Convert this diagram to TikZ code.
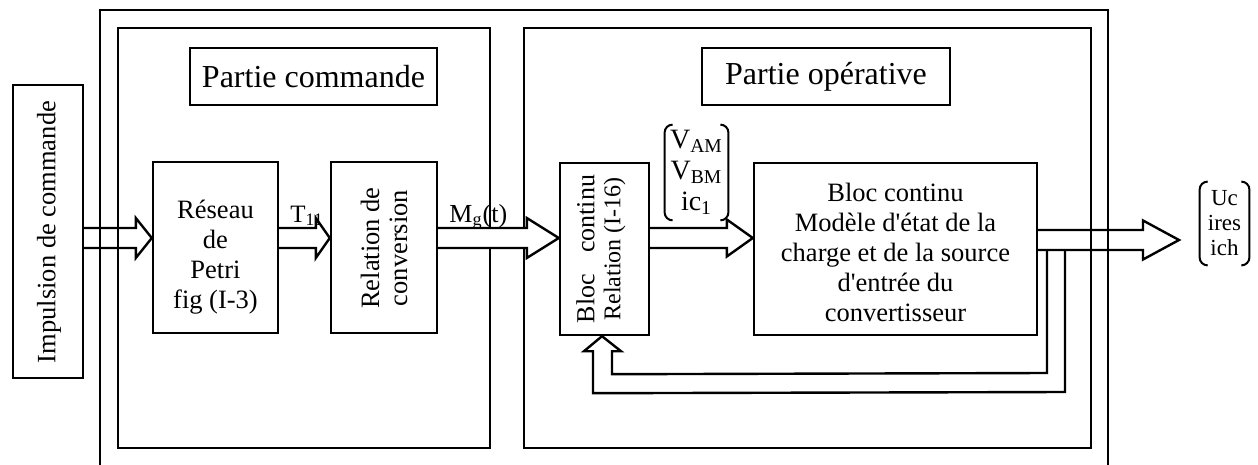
\documentclass[tikz,border=0pt]{standalone}
\usepackage{fontspec}
\setmainfont{Liberation Serif}
\usetikzlibrary{calc}
\newcommand\fsz[2]{\fontsize{#1pt}{#2pt}\selectfont}
% block arrow: #1 options, #2 start, #3 tip, #4 head length, #5 head half width
\newcommand\blkarrow[5][]{%
  \draw[ln,#1] ($(#2)+(0,-10)$) -- ($(#3)+(-#4,-10)$) -- ($(#3)+(-#4,-#5)$) -- (#3)
     -- ($(#3)+(-#4,#5)$) -- ($(#3)+(-#4,10)$) -- ($(#2)+(0,10)$);}
\tikzset{
  ln/.style={line width=1.2pt, line join=miter},
  box/.style={draw, line width=1.2pt, inner sep=0pt},
  lbl/.style={box, font=\fsz{16}{18}},
  txt/.style={inner sep=0pt, align=center, font=\fsz{13.25}{15}},
  pline/.style={line width=1pt, rounded corners=4pt},
}
\begin{document}
\begin{tikzpicture}[x=0.5pt,y=-0.5pt]
\useasboundingbox (0,0) rectangle (1258,465);
% outer frame (open at the bottom)
\draw[ln] (100,465) -- (100,10) -- (1108,10) -- (1108,465);
% two parts
\node[box, minimum width=186pt, minimum height=210pt] (cmd) at (304,238) {};
\node[box, minimum width=283.5pt, minimum height=210pt] (op) at (807.5,238) {};
\node[lbl, minimum width=123.5pt, minimum height=28.5pt] (cmdlbl) at (313.5,76.5) {Partie commande};
\node[lbl, minimum width=124pt, minimum height=28.5pt] (oplbl) at (826,76.5) {Partie opérative};
% blocks
\node[box, minimum width=35pt, minimum height=146.5pt] (imp) at (48,231.5) {};
\node[txt, rotate=90] (imptxt) at (49,232) {Impulsion de commande};
\node[box, minimum width=62.5pt, minimum height=85.5pt] (reseau) at (215.5,247.5) {};
\node[txt] (reseautxt) at (215.5,257) {Réseau\\de\\Petri\\fig (I-3)};
\node[box, minimum width=53pt, minimum height=85.5pt] (conv) at (384,247.5) {};
\node[txt, rotate=90, font=\fsz{13.25}{14}] (convtxt) at (384,248) {Relation de\\conversion};
\node[box, minimum width=44.5pt, minimum height=86pt] (bloc) at (604.5,249) {};
\node[txt, rotate=90, font=\fsz{12}{13}] (bloctxt) at (601,249) {{\fsz{13}{13}\hbox to 74pt{Bloc\hfill continu}}\\Relation (I-16)};
\node[box, minimum width=141.5pt, minimum height=86pt] (big) at (895.5,249) {};
\node[txt] (bigtxt) at (895.5,252) {Bloc continu\\Modèle d\textquotesingle état de la\\charge et de la source\\d\textquotesingle entrée du\\convertisseur};
% arrows
\coordinate (a1s) at (imp.east |- 0,238);
\coordinate (a1t) at (reseau.west |- 0,238);
\blkarrow{a1s}{a1t}{16}{20}
\coordinate (a2s) at (reseau.east |- 0,238);
\coordinate (a2t) at (conv.west |- 0,238);
\blkarrow{a2s}{a2t}{14}{20}
\coordinate (a3s) at (conv.east |- 0,238);
\coordinate (a3t) at (bloc.west |- 0,238);
\blkarrow[fill=white]{a3s}{a3t}{32}{20}
\coordinate (a4s) at (bloc.east |- 0,238);
\coordinate (a4t) at (big.west |- 0,238);
\blkarrow{a4s}{a4t}{26}{18.5}
\coordinate (a5s) at (big.east |- 0,240);
\coordinate (a5t) at (1179,240);
\blkarrow{a5s}{a5t}{36}{19.5}
% feedback loop
\coordinate (fbtip) at (bloc.south -| 602,0);
\draw[ln] (1047,250) -- (1047,373) -- ($(fbtip)+(10,38)$) -- ($(fbtip)+(10,15)$) -- ($(fbtip)+(19,15)$)
  -- (fbtip) -- ($(fbtip)+(-18,15)$) -- ($(fbtip)+(-9,15)$) -- ($(fbtip)+(-9,57)$) -- (1065,392) -- (1065,250);
% signal labels
\node[anchor=base west, inner sep=0pt, font=\fsz{12.5}{14}] (tlbl) at (290,222) {T\textsubscript{11}};
\node[anchor=base west, inner sep=0pt, font=\fsz{13}{14}] (mlbl) at (449,222) {M\textsubscript{g}(t)};
\node[inner sep=0pt, align=center, font=\fsz{14}{15.5}, minimum width=31.5pt, minimum height=47.5pt] (vec) at (696.5,172.5) {V\textsubscript{AM}\\V\textsubscript{BM}\\ic\textsubscript{1}};
\draw[pline] ($(vec.north west)+(8,0)$) -- (vec.north west) -- (vec.south west) -- ($(vec.south west)+(8,0)$);
\draw[pline] ($(vec.north east)+(-8,0)$) -- (vec.north east) -- (vec.south east) -- ($(vec.south east)+(-8,0)$);
\node[inner sep=0pt, align=center, font=\fsz{11.5}{12.5}, minimum width=24.5pt, minimum height=41.5pt] (out) at (1224.5,223.5) {Uc\\ires\\ich};
\draw[pline] ($(out.north west)+(7,0)$) -- (out.north west) -- (out.south west) -- ($(out.south west)+(7,0)$);
\draw[pline] ($(out.north east)+(-7,0)$) -- (out.north east) -- (out.south east) -- ($(out.south east)+(-7,0)$);
\end{tikzpicture}
\end{document}
